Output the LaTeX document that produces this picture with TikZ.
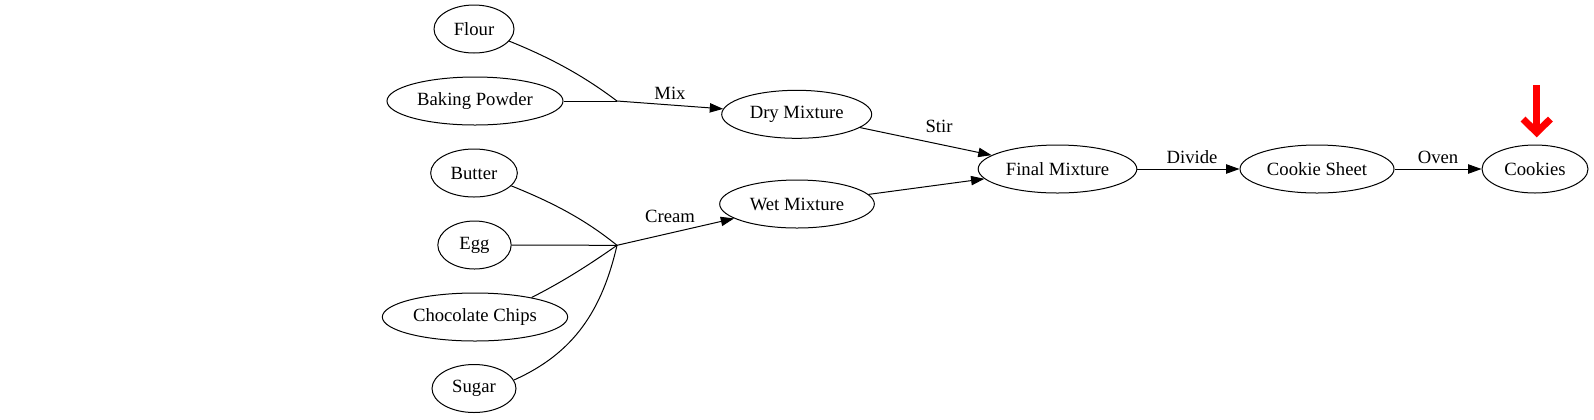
\documentclass[tikz,border=0pt]{standalone}
\usepackage{fontspec}
\setmainfont{Liberation Serif}
\usetikzlibrary{shapes.geometric,arrows.meta}
\tikzset{
  el/.style={draw, ellipse, inner sep=0pt, minimum height=36pt, line width=0.75pt, font=\fontsize{14}{16}\selectfont},
  lbl/.style={inner sep=0pt, font=\fontsize{14}{16}\selectfont},
  edge/.style={line width=0.75pt},
  arr/.style={line width=0.75pt, -{Triangle[length=10pt,width=7pt]}},
  mark arrow/.style={draw=red, line width=5.2pt, line cap=butt, line join=miter}
}
\begin{document}
\begin{tikzpicture}[x=0.75pt,y=-0.75pt]
\useasboundingbox (0,0) rectangle (1594,419);
% nodes
\node[el, minimum width=60pt]  (flour)  at (474,29)  {Flour};
\node[el, minimum width=132pt] (bp)     at (475,101) {Baking Powder};
\node[el, minimum width=65pt]  (butter) at (474,173) {Butter};
\node[el, minimum width=55pt]  (egg)    at (474.5,245) {Egg};
\node[el, minimum width=139pt] (choc)   at (475,317) {Chocolate Chips};
\node[el, minimum width=63pt]  (sugar)  at (474,388.5) {Sugar};
\node[el, minimum width=112.5pt] (dry)  at (796.7,114.3) {Dry Mixture};
\node[el, minimum width=116pt] (wet)    at (797,204) {Wet Mixture};
\node[el, minimum width=119pt] (final)  at (1057.5,169) {Final Mixture};
\node[el, minimum width=115.5pt] (sheet) at (1317,169) {Cookie Sheet};
\node[el, minimum width=79.5pt] (cookies) at (1535,169) {Cookies};
\coordinate (jmix) at (617,101);
\coordinate (jcream) at (617,245.3);
% dry branch
\draw[edge] (flour.-19) to[out=-22,in=143,looseness=0.9] (jmix);
\draw[edge] (bp) -- (jmix);
\draw[arr] (jmix) -- (dry);
\node[lbl] (lmix) at (670,93) {Mix};
% wet branch
\draw[edge] (butter.-19) to[out=-22,in=141,looseness=0.9] (jcream);
\draw[edge] (egg) -- (jcream);
\draw[edge] (choc.19) to[out=27,in=-145,looseness=0.9] (jcream);
\draw[edge] (sugar.12) to[out=24,in=-103,looseness=1] (jcream);
\draw[arr] (jcream) -- (wet);
\node[lbl] (lcream) at (670,216) {Cream};
% main line
\draw[arr] (dry) -- (final);
\node[lbl] (lstir) at (939,126) {Stir};
\draw[arr] (wet) -- (final);
\draw[arr] (final) -- (sheet);
\node[lbl] (ldiv) at (1192,157) {Divide};
\draw[arr] (sheet) -- (cookies);
\node[lbl] (loven) at (1438,157) {Oven};
% red marker arrow
\coordinate (mtop) at (1536.7,85);
\coordinate (mtip) at (1536.7,132.5);
\coordinate (mleft) at (1523,119);
\coordinate (mright) at (1550.4,119);
\draw[mark arrow] (mtop) -- (1536.7,130);
\draw[mark arrow] (mleft) -- (mtip) -- (mright);
\end{tikzpicture}
\end{document}
